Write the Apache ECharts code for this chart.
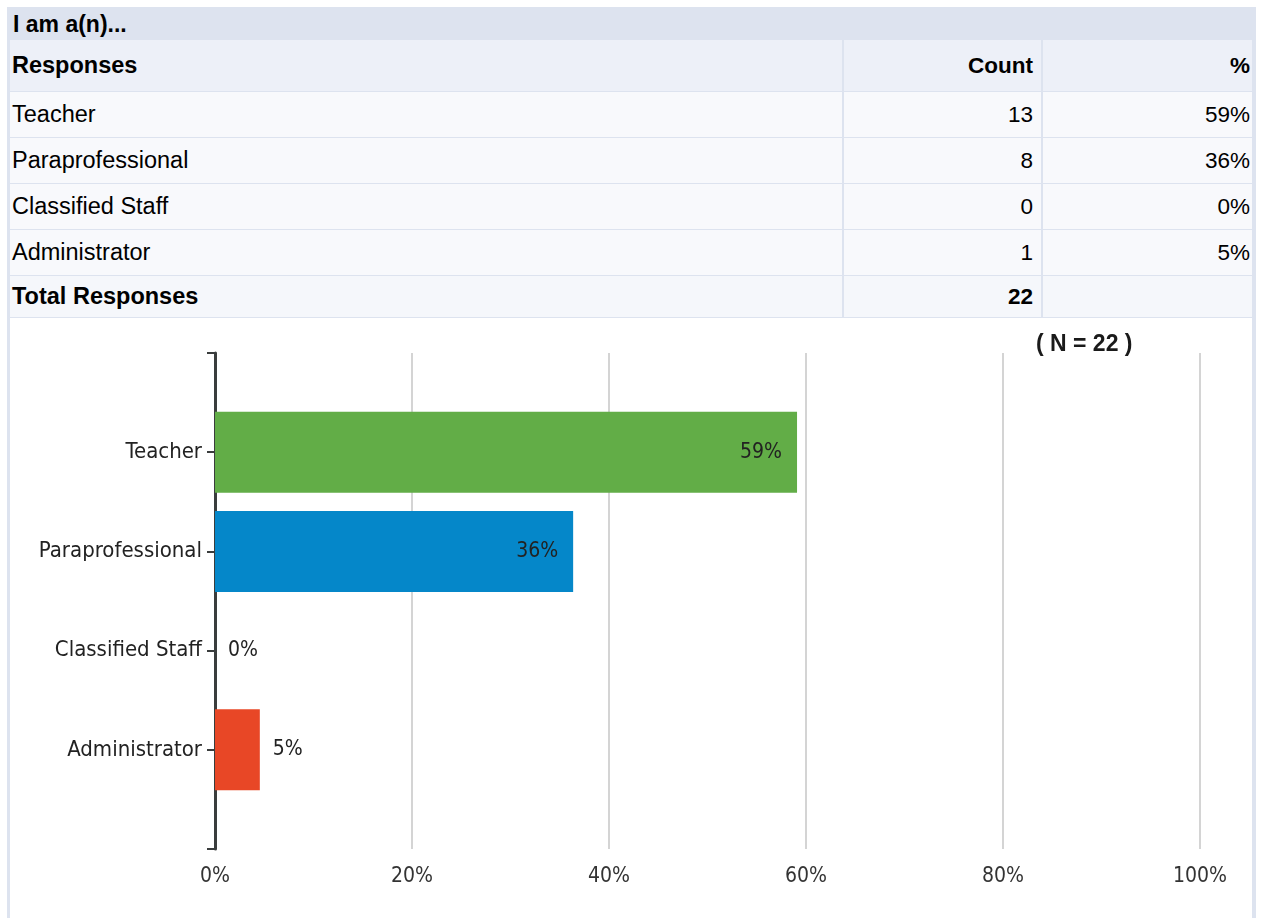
<!DOCTYPE html>
<html>
<head>
<meta charset="utf-8">
<script src="https://cdn.jsdelivr.net/npm/echarts@6/dist/echarts.min.js"></script>
<style>
  html, body { margin: 0; padding: 0; background: #ffffff; }
  body { width: 1261px; height: 918px; position: relative; overflow: hidden; font-family: "Liberation Sans", Arial, sans-serif; }
  #frame { position: absolute; left: 7px; top: 7px; width: 1249px; height: 911px; background: #dde3ef; }
  #title { position: absolute; left: 13px; top: 7px; height: 33px; line-height: 34px; font-size: 23px; font-weight: bold; color: #000; }
  #tbl { position: absolute; left: 10px; top: 40px; width: 1242px; border-collapse: collapse; table-layout: fixed; }
  #tbl td { padding: 0 2px; font-size: 23.5px; color: #000; border-bottom: 1px solid #dde3ef; white-space: nowrap; }
  #tbl td.num { text-align: right; border-left: 2px solid #dde3ef; font-size: 22.5px; }
  #tbl td.cnt { padding-right: 8px; }
  #tbl tr.head td { background: #edf0f8; font-weight: bold; height: 51px; }
  #tbl tr.row td { background: #f8f9fc; height: 45px; }
  #tbl tr.total td { background: #f5f7fb; font-weight: bold; height: 41px; }
  #chart { position: absolute; left: 10px; top: 318px; width: 1242px; height: 600px; background: #ffffff; }
</style>
</head>
<body>
<div id="frame"></div>
<div id="title">I am a(n)...</div>
<table id="tbl">
  <colgroup><col style="width:833px"><col style="width:199px"><col style="width:210px"></colgroup>
  <tbody id="tbody"></tbody>
</table>
<div id="chart"></div>
<script>
// values
var categories = ["Teacher", "Paraprofessional", "Classified Staff", "Administrator"];
var counts = [13, 8, 0, 1];
var percents = [59.09, 36.36, 0, 4.55];
var percentLabels = ["59%", "36%", "0%", "5%"];
var totalResponses = 22;
var xTicks = ["0%", "20%", "40%", "60%", "80%", "100%"];
var barColors = ["#62ad47", "#0587c9", "#9e9e9e", "#e84726"];

// table
var tbody = document.getElementById("tbody");
var html = '<tr class="head"><td>Responses</td><td class="num cnt">Count</td><td class="num">%</td></tr>';
for (var i = 0; i < categories.length; i++) {
  html += '<tr class="row"><td>' + categories[i] + '</td><td class="num cnt">' + counts[i] +
    '</td><td class="num">' + percentLabels[i] + '</td></tr>';
}
html += '<tr class="total"><td>Total Responses</td><td class="num cnt">' + totalResponses + '</td><td class="num"></td></tr>';
tbody.innerHTML = html;

// chart: empty padding slots above and below so the axis bracket runs past the bars
var yCats = [""].concat(categories).concat([""]);
var barData = ["-"];
for (var j = 0; j < categories.length; j++) {
  var inside = percents[j] > 20;
  barData.push({
    value: percents[j],
    itemStyle: { color: barColors[j] },
    label: {
      position: inside ? "insideRight" : "right",
      distance: inside ? 15 : 13,
      formatter: percentLabels[j]
    }
  });
}
barData.push("-");

var chartDom = document.getElementById("chart");
var myChart = echarts.init(chartDom);
var textFont = '"DejaVu Sans Condensed", "DejaVu Sans", sans-serif';
var option = {
  animation: false,
  title: {
    text: "( N = " + totalResponses + " )",
    left: 1021,
    top: 10,
    textStyle: { fontSize: 23, fontWeight: "bold", color: "#1a1a1a", fontFamily: '"Liberation Sans", Arial, sans-serif' }
  },
  grid: { left: 205, right: 52, top: 35, bottom: 69, containLabel: false },
  xAxis: {
    type: "value",
    min: 0,
    max: 100,
    interval: 20,
    axisLine: { show: false },
    axisTick: { show: false },
    axisLabel: {
      margin: 17,
      fontSize: 21,
      color: "#333",
      fontFamily: textFont,
      formatter: function (v) { return xTicks[Math.round(v / 20)]; }
    },
    splitLine: { lineStyle: { color: "#d4d4d4", width: 2 } }
  },
  yAxis: {
    type: "category",
    data: yCats,
    inverse: true,
    boundaryGap: false,
    axisLine: { show: true, lineStyle: { color: "#3a3d3d", width: 3 } },
    axisTick: { show: true, length: 8, interval: 0, lineStyle: { color: "#3a3d3d", width: 2 } },
    axisLabel: { margin: 13, fontSize: 22, color: "#222", fontFamily: textFont, interval: 0 },
    splitLine: { show: false }
  },
  series: [{
    type: "bar",
    data: barData,
    barWidth: 81,
    label: { show: true, fontSize: 21, color: "#222", fontFamily: textFont }
  }]
};
option && myChart.setOption(option);
</script>
</body>
</html>
